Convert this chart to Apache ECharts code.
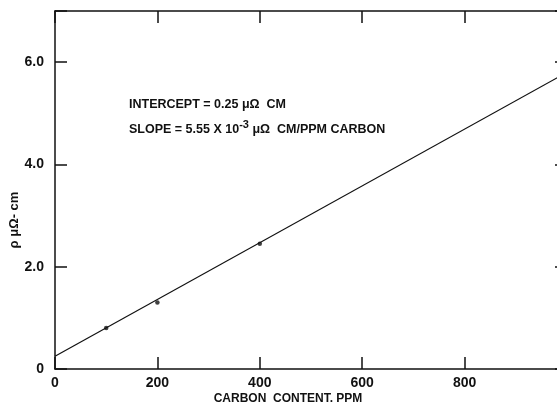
<!DOCTYPE html>
<html>
<head>
<meta charset="utf-8">
<script src="https://cdn.jsdelivr.net/npm/echarts@6/dist/echarts.min.js"></script>
<style>
  html, body { margin: 0; padding: 0; background: #fff; }
  #chart { width: 557px; height: 406px; }
</style>
</head>
<body>
<div id="chart"></div>
<script>
// measured points (carbon ppm, resistivity)
const carbonPpm = [100, 200, 400];
const rhoValues = [0.8, 1.3, 2.45];
// fitted line end points
const fitX = [0, 1000];
const fitY = [0.25, 5.8];
// tick labels
const xTickLabels = ['0', '200', '400', '600', '800'];
const yTickLabels = ['0', '2.0', '4.0', '6.0'];

const font = 'Liberation Sans';
const chart = echarts.init(document.getElementById('chart'));

// axis with ticks pointing inward
function axisBase(extra) {
  return Object.assign({
    axisLine: { show: true, onZero: false, lineStyle: { color: '#111', width: 1.5 } },
    axisTick: { show: true, inside: true, length: 12, lineStyle: { color: '#111', width: 1.5 } },
    splitLine: { show: false }
  }, extra);
}

chart.setOption({
  animation: false,
  grid: { left: 55, width: 512, top: 11, height: 358, outerBoundsMode: 'none', containLabel: false },
  xAxis: [
    axisBase({
      type: 'value', min: 0, max: 1000, interval: 200, position: 'bottom',
      axisLabel: {
        color: '#111', fontFamily: font, fontWeight: 'bold', fontSize: 14, margin: 7,
        formatter: v => xTickLabels[v / 200] || ''
      }
    }),
    axisBase({
      type: 'value', min: 0, max: 1000, interval: 200, position: 'top',
      axisLabel: { show: false }
    })
  ],
  yAxis: [
    axisBase({
      type: 'value', min: 0, max: 7, interval: 2, position: 'left',
      axisLabel: {
        color: '#111', fontFamily: font, fontWeight: 'bold', fontSize: 14, margin: 11,
        formatter: v => yTickLabels[v / 2] || ''
      }
    }),
    axisBase({
      type: 'value', min: 0, max: 7, interval: 2, position: 'right',
      axisLabel: { show: false }
    })
  ],
  series: [
    {
      type: 'line',
      data: fitX.map((x, i) => [x, fitY[i]]),
      showSymbol: false,
      lineStyle: { color: '#111', width: 1.2 }
    },
    {
      type: 'scatter',
      data: carbonPpm.map((x, i) => [x, rhoValues[i]]),
      symbolSize: 4.5,
      itemStyle: { color: '#111' }
    }
  ],
  graphic: [
    {
      type: 'text', left: 129, top: 98,
      style: {
        text: 'INTERCEPT = 0.25 μΩ  CM',
        font: 'bold 12.5px "Liberation Sans"', fill: '#111'
      }
    },
    {
      type: 'text', left: 129, top: 119,
      style: {
        text: '{t|SLOPE = 5.55 X 10}{s|-3}{t| μΩ  CM/PPM CARBON}',
        fill: '#111',
        rich: {
          t: { font: 'bold 12.5px "Liberation Sans"', fill: '#111', verticalAlign: 'bottom' },
          s: { font: 'bold 11px "Liberation Sans"', fill: '#111', verticalAlign: 'top', padding: [0, 0, 6, 0] }
        }
      }
    },
    {
      type: 'text', x: 288, y: 399,
      style: {
        text: 'CARBON  CONTENT. PPM',
        font: 'bold 12px "Liberation Sans"', fill: '#111',
        align: 'center', verticalAlign: 'middle'
      }
    },
    {
      type: 'text', x: 14, y: 220, rotation: Math.PI / 2,
      style: {
        text: 'ρ μΩ- cm',
        font: 'bold 13px "Liberation Sans"', fill: '#111',
        align: 'center', verticalAlign: 'middle'
      }
    }
  ]
});
</script>
</body>
</html>
